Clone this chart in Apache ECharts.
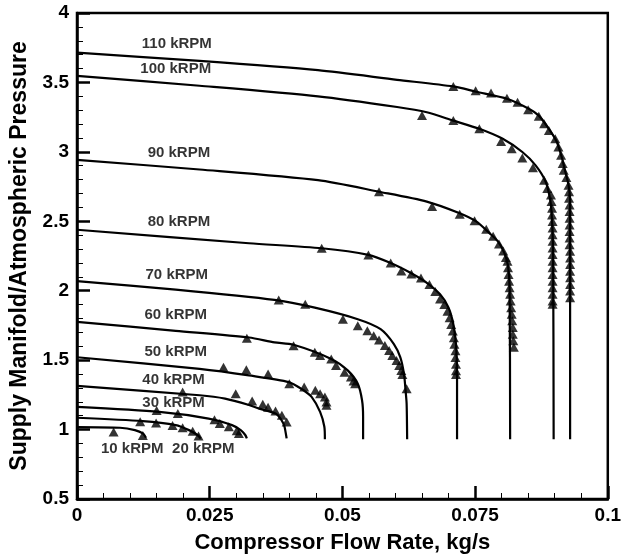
<!DOCTYPE html>
<html>
<head>
<meta charset="utf-8">
<script src="https://cdn.jsdelivr.net/npm/echarts@6/dist/echarts.min.js"></script>
<style>
    html, body {margin: 0; padding: 0; background: #fff;}
    #app {width: 624px; height: 559px;}
</style>
</head>
<body>
<div id="app"></div>
<script>
//model lines, [flow, pressure ratio]
var line110 = [[0,3.714],[0.0231,3.655],[0.0454,3.588],[0.0603,3.519],[0.0709,3.471],[0.0752,3.433],[0.0811,3.381],[0.0852,3.309],[0.0870,3.261],[0.0889,3.166],[0.0904,3.071],[0.0914,2.951],[0.0920,2.856],[0.0926,2.760],[0.0929,2.642],[0.0929,0.93]]
var line100 = [[0,3.547],[0.0231,3.476],[0.0454,3.400],[0.0603,3.323],[0.0659,3.285],[0.0709,3.225],[0.0758,3.166],[0.0802,3.094],[0.0839,2.999],[0.0864,2.903],[0.0883,2.785],[0.0892,2.642],[0.0895,2.499],[0.0897,2.260],[0.0898,0.93]]
var line90 = [[0,2.942],[0.0231,2.873],[0.0454,2.796],[0.0569,2.713],[0.0659,2.642],[0.0721,2.558],[0.0752,2.499],[0.0777,2.415],[0.0793,2.355],[0.0805,2.272],[0.0812,2.179],[0.0815,2.021],[0.0816,0.93]]
var line80 = [[0,2.439],[0.0324,2.342],[0.0461,2.306],[0.0549,2.258],[0.0591,2.199],[0.0628,2.129],[0.0659,2.057],[0.0684,1.974],[0.0700,1.878],[0.0709,1.759],[0.0714,1.616],[0.0716,1.401],[0.0716,0.93]]
var line70 = [[0,2.069],[0.0186,2.008],[0.0372,1.934],[0.0448,1.878],[0.0529,1.795],[0.0572,1.723],[0.0597,1.616],[0.0609,1.521],[0.0616,1.401],[0.0619,1.283],[0.0621,1.187],[0.0622,0.93]]
var line60 = [[0,1.776],[0.0186,1.711],[0.0324,1.663],[0.0372,1.628],[0.0408,1.611],[0.0479,1.509],[0.0510,1.426],[0.0529,1.330],[0.0537,1.211],[0.0539,1.092],[0.0539,0.93]]
var line50 = [[0,1.521],[0.0231,1.437],[0.0324,1.390],[0.0399,1.342],[0.0426,1.285],[0.0442,1.235],[0.0458,1.127],[0.0466,1.020],[0.0467,0.93]]
var line40 = [[0,1.315],[0.0231,1.247],[0.0279,1.223],[0.0324,1.177],[0.0343,1.151],[0.0374,1.115],[0.0385,1.070],[0.0391,1.020],[0.0395,0.936]]
var line30 = [[0,1.163],[0.0155,1.127],[0.0248,1.079],[0.0292,1.032],[0.0309,0.995],[0.0317,0.961],[0.0320,0.936]]
var line20 = [[0,1.085],[0.0124,1.061],[0.0186,1.032],[0.0211,0.996],[0.0227,0.961],[0.0233,0.936]]
var line10 = [[0,1.018],[0.0081,1.013],[0.0109,0.996],[0.0124,0.972],[0.0130,0.941]]

//measured points
var pts110 = [[0.0709,3.471],[0.0751,3.440],[0.0780,3.423],[0.0810,3.386],[0.0830,3.357],[0.0850,3.304],[0.0870,3.257],[0.0880,3.202],[0.0889,3.154],[0.0901,3.095],[0.0907,3.035],[0.0912,2.975],[0.0915,2.916],[0.0917,2.868],[0.0922,2.815],[0.0926,2.760],[0.0927,2.713],[0.0927,2.665],[0.0928,2.617],[0.0928,2.570],[0.0928,2.522],[0.0928,2.474],[0.0928,2.427],[0.0928,2.379],[0.0928,2.331],[0.0929,2.284],[0.0929,2.236],[0.0929,2.188],[0.0929,2.141],[0.0929,2.093],[0.0929,2.045],[0.0929,1.998],[0.0929,1.950]]
var pts100 = [[0.0650,3.261],[0.0709,3.225],[0.0758,3.166],[0.0799,3.075],[0.0819,3.023],[0.0839,2.956],[0.0859,2.885],[0.0880,2.796],[0.0886,2.737],[0.0893,2.689],[0.0894,2.642],[0.0895,2.594],[0.0895,2.546],[0.0896,2.499],[0.0896,2.451],[0.0896,2.403],[0.0896,2.356],[0.0896,2.308],[0.0896,2.260],[0.0896,2.212],[0.0896,2.165],[0.0896,2.117],[0.0896,2.069],[0.0896,2.022],[0.0896,1.974],[0.0896,1.926],[0.0896,1.902]]
var pts90 = [[0.0569,2.713],[0.0669,2.606],[0.0721,2.551],[0.0749,2.503],[0.0771,2.443],[0.0784,2.393],[0.0795,2.336],[0.0803,2.286],[0.0808,2.240],[0.0811,2.212],[0.0812,2.165],[0.0813,2.117],[0.0814,2.069],[0.0815,2.022],[0.0816,1.974],[0.0817,1.926],[0.0818,1.878],[0.0819,1.830],[0.0820,1.783],[0.0821,1.735],[0.0821,1.687],[0.0822,1.640],[0.0823,1.592]]
var pts80 = [[0.0461,2.306],[0.0549,2.258],[0.0591,2.199],[0.0611,2.142],[0.0630,2.120],[0.0648,2.092],[0.0664,2.044],[0.0675,1.995],[0.0684,1.940],[0.0692,1.900],[0.0698,1.853],[0.0702,1.805],[0.0705,1.757],[0.0708,1.710],[0.0710,1.662],[0.0711,1.614],[0.0713,1.567],[0.0713,1.519],[0.0714,1.471],[0.0714,1.424],[0.0714,1.397]]
var pts70 = [[0.0380,1.934],[0.0430,1.902],[0.0501,1.795],[0.0529,1.747],[0.0547,1.712],[0.0559,1.676],[0.0569,1.645],[0.0580,1.605],[0.0588,1.569],[0.0594,1.533],[0.0602,1.497],[0.0607,1.461],[0.0611,1.426],[0.0613,1.397],[0.0621,1.294]]
var pts60 = [[0.0320,1.657],[0.0408,1.604],[0.0448,1.557],[0.0458,1.533],[0.0479,1.509],[0.0488,1.461],[0.0504,1.413],[0.0516,1.378],[0.0521,1.349],[0.0524,1.330]]
var pts50 = [[0.0276,1.449],[0.0319,1.430],[0.0360,1.401],[0.0400,1.330],[0.0428,1.306],[0.0449,1.283],[0.0458,1.258],[0.0467,1.235],[0.0470,1.199],[0.0470,1.175]]
var pts40 = [[0.0199,1.270],[0.0299,1.258],[0.0330,1.206],[0.0350,1.183],[0.0360,1.160],[0.0374,1.134],[0.0386,1.104],[0.0395,1.054]]
var pts30 = [[0.0150,1.137],[0.0190,1.115],[0.0259,1.070],[0.0269,1.044],[0.0286,1.020],[0.0301,0.991],[0.0305,0.972]]
var pts20 = [[0.0119,1.056],[0.0149,1.047],[0.0180,1.029],[0.0199,1.014],[0.0218,0.988],[0.0229,0.953]]
var pts10 = [[0.0069,0.982],[0.0124,0.958]]

//speed labels and where they sit
var speeds = ['110 kRPM', '100 kRPM', '90 kRPM', '80 kRPM', '70 kRPM', '60 kRPM', '50 kRPM', '40 kRPM', '30 kRPM', '10 kRPM', '20 kRPM']
var labelPos = [[0.0188,3.781],[0.0186,3.595],[0.0192,2.992],[0.0192,2.494],[0.0188,2.117],[0.0186,1.826],[0.0186,1.557],[0.0182,1.358],[0.0182,1.194],[0.0104,0.861],[0.0238,0.861]]

var xTicks = [0, 0.025, 0.05, 0.075, 0.1]

var lines = [line110, line100, line90, line80, line70, line60, line50, line40, line30, line20, line10]
var points = [pts110, pts100, pts90, pts80, pts70, pts60, pts50, pts40, pts30, pts20, pts10]

var font = '"Liberation Sans", Arial, sans-serif'
var chart = echarts.init(document.getElementById('app'))

var series = []

lines.forEach((d) => {
    series.push({
        type: 'line',
        data: d,
        showSymbol: false,
        smooth: 0.25,
        lineStyle: {color: '#000', width: 2.2},
        silent: true
    })
})

points.forEach((d) => {
    series.push({
        type: 'scatter',
        data: d,
        symbol: 'triangle',
        symbolSize: [10, 9],
        itemStyle: {color: '#000'},
        silent: true
    })
})

series.push({
    type: 'scatter',
    symbolSize: 0,
    data: labelPos.map((p, i) => [p[0], p[1], speeds[i]]),
    label: {
        show: true,
        position: 'inside',
        formatter: (p) => p.data[2],
        color: '#000',
        fontFamily: font,
        fontWeight: 'bold',
        fontSize: 15,
        textBorderWidth: 0
    },
    silent: true
})

//axis styles shared by both axes
var tickStyle = {show: true, inside: true, length: 13, lineStyle: {color: '#000', width: 2.5}}
var minorStyle = {show: true, splitNumber: 5, length: 6, lineStyle: {color: '#000', width: 1}}
var titleStyle = {color: '#000', fontFamily: font, fontWeight: 'bold', fontSize: 22}

chart.setOption({
    animation: false,
    backgroundColor: '#fff',
    grid: {
        left: 76,
        right: 11,
        top: 13,
        bottom: 56,
        show: true,
        borderColor: '#000',
        borderWidth: 2.5
    },
    xAxis: {
        type: 'value',
        min: 0,
        max: 0.1,
        interval: 0.025,
        name: 'Compressor Flow Rate, kg/s',
        nameLocation: 'middle',
        nameGap: 33,
        nameTextStyle: titleStyle,
        axisLine: {show: true, onZero: false, lineStyle: {color: '#000', width: 2.5}},
        axisTick: tickStyle,
        minorTick: minorStyle,
        splitLine: {show: false},
        axisLabel: {
            color: '#000', fontFamily: font, fontWeight: 'bold', fontSize: 19, margin: 7,
            formatter: (v) => {
                var t = xTicks.find((k) => Math.abs(k - v) < 1e-9)
                return t === undefined ? '' : String(t)
            }
        }
    },
    yAxis: {
        type: 'value',
        min: 0.5,
        max: 4,
        interval: 0.5,
        name: 'Supply Manifold/Atmospheric Pressure',
        nameLocation: 'middle',
        nameGap: 46,
        nameTextStyle: Object.assign({}, titleStyle, {fontSize: 23}),
        axisLine: {show: true, onZero: false, lineStyle: {color: '#000', width: 2.5}},
        axisTick: tickStyle,
        minorTick: minorStyle,
        splitLine: {show: false},
        axisLabel: {color: '#000', fontFamily: font, fontWeight: 'bold', fontSize: 19, margin: 8}
    },
    series: series
})
</script>
</body>
</html>
